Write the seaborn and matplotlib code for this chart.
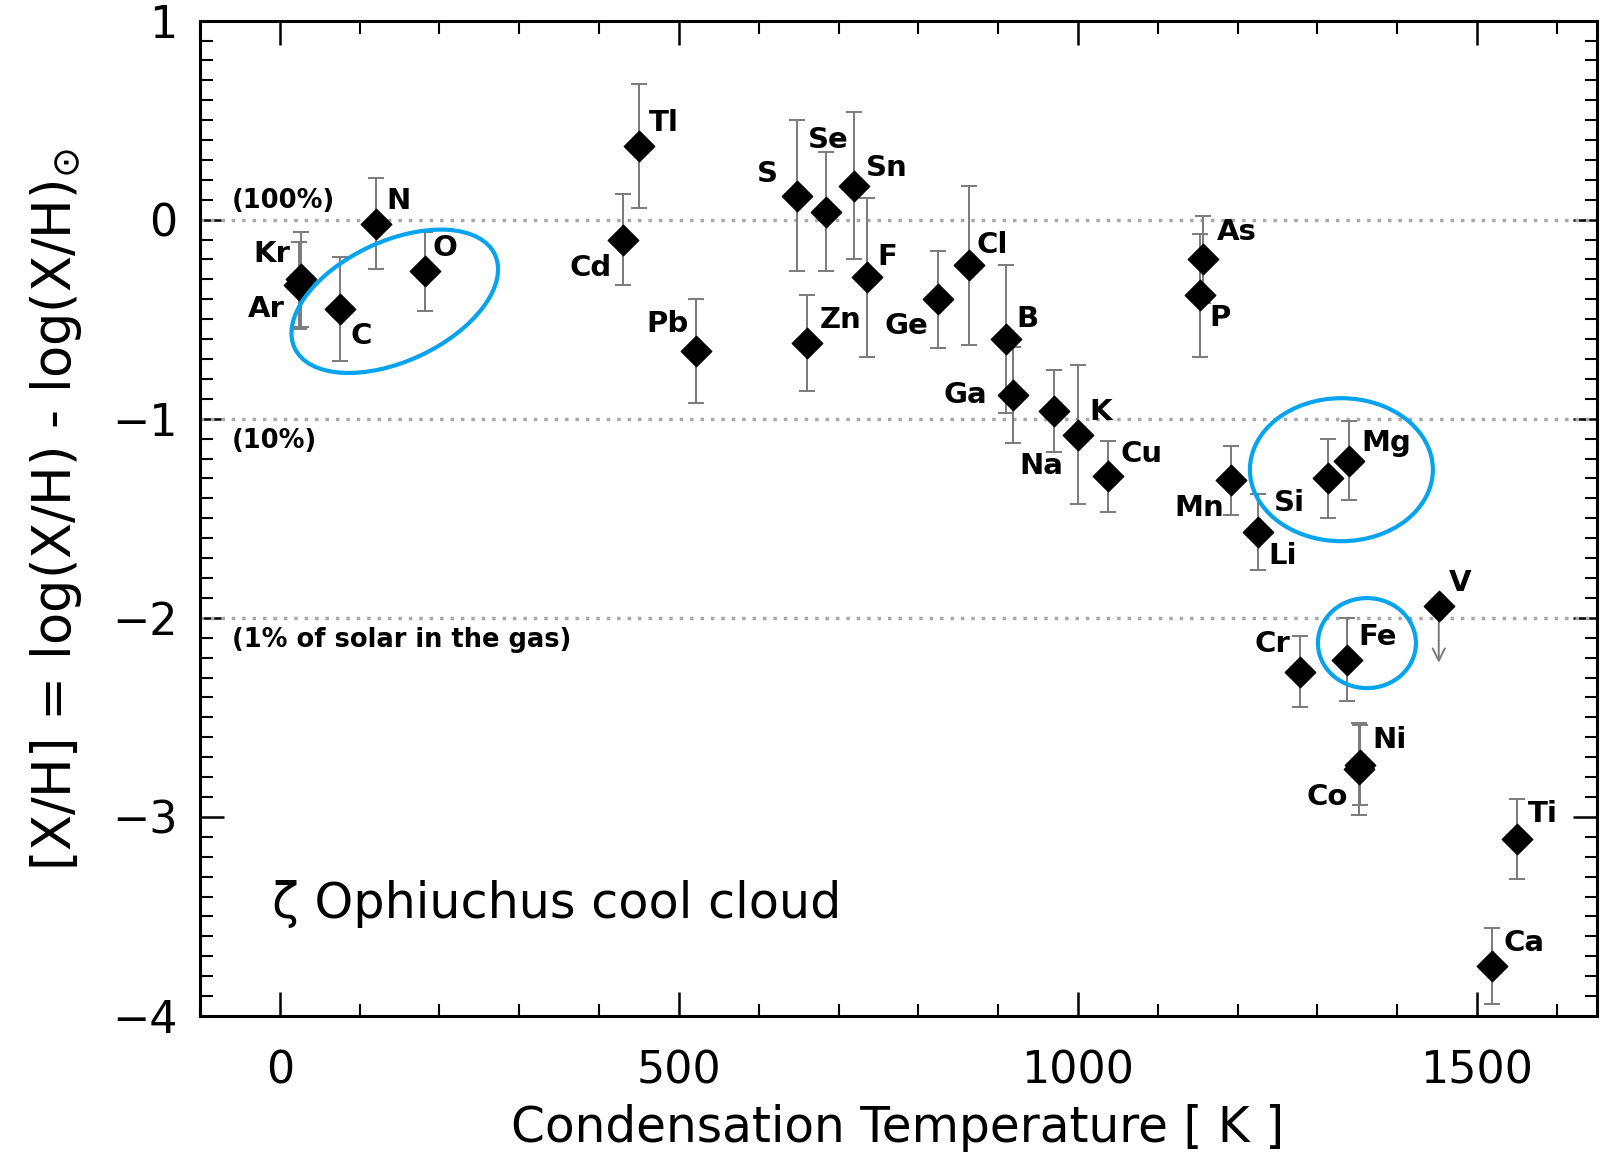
import numpy as np
import pandas as pd
import matplotlib
matplotlib.use("Agg")
import matplotlib.pyplot as plt
import matplotlib.transforms as mtransforms
from matplotlib.patches import Ellipse
import seaborn as sns

# Gas-phase depletion in the zeta Ophiuchi cool cloud versus condensation temperature
elements = ["Kr", "Ar", "C", "N", "O", "Cd", "Tl", "Pb", "S", "Zn", "Se", "Sn", "F",
            "Ge", "Cl", "B", "Ga", "Na", "K", "Cu", "P", "As", "Mn", "Li", "Cr",
            "Si", "Fe", "Mg", "Co", "Ni", "V", "Ca", "Ti"]
tcond = [27, 24, 75, 121, 182, 430, 450, 521, 648, 661, 684, 719, 736,
         825, 864, 910, 919, 970, 1000, 1038, 1153, 1157, 1192, 1225, 1278,
         1313, 1337, 1340, 1352, 1353, 1452, 1519, 1550]
abundance = [-0.30, -0.33, -0.45, -0.02, -0.26, -0.10, 0.37, -0.66, 0.12, -0.62, 0.04, 0.17, -0.29,
             -0.40, -0.23, -0.60, -0.88, -0.96, -1.08, -1.29, -0.38, -0.20, -1.31, -1.57, -2.27,
             -1.30, -2.21, -1.21, -2.76, -2.74, -1.94, -3.75, -3.11]
sigma = [0.24, 0.22, 0.26, 0.23, 0.20, 0.23, 0.31, 0.26, 0.38, 0.24, 0.30, 0.37, 0.40,
         0.245, 0.40, 0.37, 0.24, 0.205, 0.35, 0.18, 0.31, 0.22, 0.175, 0.19, 0.18,
         0.20, 0.21, 0.20, 0.23, 0.20, 0.0, 0.19, 0.20]
upper_limit = ["V"]
limit_drop = 0.30

ref_levels = [0, -1, -2]
ref_texts = ["(100%)", "(10%)", "(1% of solar in the gas)"]

x_ticks = [0, 500, 1000, 1500]
y_ticks = [1, 0, -1, -2, -3, -4]

# label placement around each diamond, in pixels (dx, dy)
label_offsets = {
    "Kr": (-30, 25), "Ar": (-33, -24), "C": (22, -27), "N": (22, 23), "O": (20, 23),
    "Cd": (-32, -28), "Tl": (25, 23), "Pb": (-28, 27), "S": (-30, 22), "Zn": (33, 23),
    "Se": (2, 72), "Sn": (33, 18), "F": (20, 20), "Ge": (-32, -27), "Cl": (23, 20),
    "B": (21, 20), "Ga": (-48, 0), "Na": (-13, -55), "K": (23, 23), "Cu": (33, 22),
    "P": (20, -23), "As": (33, 27), "Mn": (-32, -28), "Li": (25, -24), "Cr": (-28, 28),
    "Si": (-38, -25), "Fe": (31, 23), "Mg": (37, 18), "Co": (-32, -28), "Ni": (30, 25),
    "V": (21, 23), "Ca": (32, 23), "Ti": (26, 25),
}

df = pd.DataFrame({"element": elements, "tc": tcond, "xh": abundance, "err": sigma})
df["limit"] = df["element"].isin(upper_limit)

sns.set_theme(style="ticks")
plt.rcParams["font.family"] = ["DejaVu Sans"]
plt.rcParams["axes.linewidth"] = 2.2

fig = plt.figure(figsize=(16, 11.57), dpi=100)
ax = fig.add_axes([0.125, 0.1219, 0.873, 0.8603])

# dotted reference levels
for lvl in ref_levels:
    ax.axhline(lvl, color="#a9a9a9", lw=2.5, ls=(0, (1, 2.0)), zorder=1)

meas = df[~df["limit"]]
ax.errorbar(meas["tc"], meas["xh"], yerr=meas["err"], fmt="none",
            ecolor="#7a7a7a", elinewidth=1.4, capsize=5.5, capthick=1.4, zorder=2)

for _, r in df[df["limit"]].iterrows():
    ax.annotate("", xy=(r["tc"], r["xh"] - limit_drop), xytext=(r["tc"], r["xh"]),
                arrowprops=dict(arrowstyle="->", color="#7a7a7a", lw=1.4,
                                mutation_scale=22), zorder=2)

sns.scatterplot(data=df, x="tc", y="xh", marker="D", s=240, color="black",
                edgecolor="black", linewidth=1, ax=ax, zorder=3, legend=False)

for _, r in df.iterrows():
    dx, dy = label_offsets[r["element"]]
    ax.annotate(r["element"], (r["tc"], r["xh"]), xytext=(dx, dy),
                textcoords="offset pixels", ha="center", va="center",
                fontsize=21, fontweight="bold", color="black", zorder=4)

for lvl, txt in zip(ref_levels, ref_texts):
    dy = 0.095 if lvl == 0 else -0.11
    ax.text(-60, lvl + dy, txt, ha="left", va="center", fontsize=18.5,
            fontweight="bold", color="black")

ax.text(-10, -3.44, "ζ Ophiuchus cool cloud", ha="left", va="center",
        fontsize=35.5, color="black")

# highlight rings drawn in screen inches, anchored at data positions
rings = [((144, -0.41), 2.21, 1.20, 25), ((1330, -1.256), 1.83, 1.43, 0),
         ((1362, -2.127), 0.98, 0.90, 0)]
for (cx, cy), w, h, ang in rings:
    tr = fig.dpi_scale_trans + mtransforms.ScaledTranslation(cx, cy, ax.transData)
    ax.add_patch(Ellipse((0, 0), w, h, angle=ang, fill=False, edgecolor="#06a3ee",
                         lw=3.0, transform=tr, zorder=5))

ax.set_xlim(-100, 1650)
ax.set_ylim(-4, 1)
ax.set_xticks(x_ticks)
ax.set_yticks(y_ticks)
ax.set_xticks(np.arange(-100, 1650, 100), minor=True)
ax.set_yticks(np.arange(-4, 1.001, 0.1), minor=True)
ax.tick_params(which="both", direction="in", top=True, right=True, colors="black")
ax.tick_params(which="major", length=17, width=1.8, labelsize=32)
ax.tick_params(axis="x", which="major", pad=24)
ax.tick_params(axis="y", which="major", pad=16)
ax.tick_params(which="minor", length=9, width=1.5)
for sp in ax.spines.values():
    sp.set_color("black")
    sp.set_linewidth(2.2)
ax.set_xlabel("")
ax.set_ylabel("")

fig.text(898 / 1600, 1 - 1128 / 1157, "Condensation Temperature [ K ]",
         ha="center", va="center", fontsize=35, color="black")
fig.text(56 / 1600, 1 - 510 / 1157, "[X/H] = log(X/H) - log(X/H)$_{\\odot}$",
         ha="center", va="center", rotation=90, fontsize=38, color="black")

fig.savefig("out.png", dpi=100, facecolor="white")
